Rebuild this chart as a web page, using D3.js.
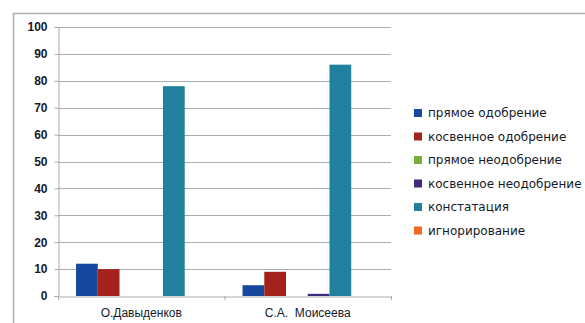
<!DOCTYPE html>
<html>
<head>
<meta charset="utf-8">
<script src="https://cdn.jsdelivr.net/npm/d3@7"></script>
<style>
  body { margin: 0; background: #fff; }
  svg { display: block; font-family: 'DejaVu Sans', Verdana, sans-serif; }
</style>
</head>
<body>
<svg id="chart" width="585" height="323"></svg>
<script>
const categories = ['О.Давыденков', 'С.А.  Моисеева'];
const seriesNames = ['прямое одобрение', 'косвенное одобрение', 'прямое неодобрение',
  'косвенное неодобрение', 'констатация', 'игнорирование'];
const davydenkov = [12, 10, 0, 0, 78, 0];
const moiseeva = [4, 9, 0, 0.8, 86, 0];
const colours = ['#17479e', '#a3231c', '#7aae3c', '#3d2a7c', '#22809f', '#f26a22'];
const yTicks = [0, 10, 20, 30, 40, 50, 60, 70, 80, 90, 100];

const values = [davydenkov, moiseeva];

const svg = d3.select('#chart');
const plotLeft = 58, plotRight = 391, plotTop = 27, plotBottom = 296;

// outer frame (cut off at right and bottom like the screenshot)
svg.append('path')
  .attr('d', 'M13.5,323 V13.5 H585')
  .attr('fill', 'none')
  .attr('stroke', '#a9b1af')
  .attr('stroke-width', 1.5);

const x = d3.scaleBand()
  .domain(categories)
  .range([plotLeft, plotRight]);

const xInner = d3.scaleBand()
  .domain(d3.range(seriesNames.length))
  .range([0, x.bandwidth()])
  .paddingOuter(0.83)
  .paddingInner(0);

const y = d3.scaleLinear()
  .domain([0, 100])
  .range([plotBottom, plotTop]);

// grid
svg.append('g')
  .selectAll('line')
  .data(yTicks.slice(1))
  .enter().append('line')
  .attr('x1', plotLeft)
  .attr('x2', plotRight)
  .attr('y1', d => Math.round(y(d)) + 0.5)
  .attr('y2', d => Math.round(y(d)) + 0.5)
  .attr('stroke', '#a6aeae');

// y axis
const yAxis = svg.append('g')
  .attr('transform', `translate(${plotLeft + 0.5},0)`)
  .call(d3.axisLeft(y).tickValues(yTicks).tickSize(4).tickPadding(7));
yAxis.select('.domain').attr('stroke', '#a6aeae');
yAxis.selectAll('.tick line').attr('stroke', '#a6aeae');
yAxis.selectAll('.tick text')
  .attr('fill', '#151a2a')
  .style('font-size', '12px')
  .style('font-weight', 'bold');

// bars
const groups = svg.append('g')
  .selectAll('g')
  .data(categories)
  .enter().append('g')
  .attr('transform', d => `translate(${x(d)},0)`);

groups.selectAll('rect')
  .data((d, i) => values[i].map((v, j) => ({ v, j })))
  .enter().append('rect')
  .attr('x', d => xInner(d.j))
  .attr('width', xInner.bandwidth())
  .attr('y', d => y(d.v))
  .attr('height', d => plotBottom - y(d.v))
  .attr('fill', d => colours[d.j]);

// x axis
const xAxis = svg.append('g')
  .attr('transform', `translate(0,${plotBottom + 0.5})`)
  .call(d3.axisBottom(x).tickSize(0).tickPadding(12));
xAxis.select('.domain').attr('stroke', '#a6aeae');
xAxis.selectAll('.tick text')
  .attr('fill', '#151a2a')
  .style('font-size', '12px')
  .style('white-space', 'pre');

svg.append('g')
  .selectAll('line')
  .data([plotLeft, x(categories[1]), plotRight])
  .enter().append('line')
  .attr('x1', d => d + 0.5)
  .attr('x2', d => d + 0.5)
  .attr('y1', plotBottom)
  .attr('y2', plotBottom + 4)
  .attr('stroke', '#a6aeae');

// legend
const legend = svg.append('g')
  .attr('transform', 'translate(414,113)')
  .selectAll('g')
  .data(seriesNames)
  .enter().append('g')
  .attr('transform', (d, i) => `translate(0,${i * 23.5})`);

legend.append('rect')
  .attr('x', 0)
  .attr('y', -4)
  .attr('width', 8)
  .attr('height', 8)
  .attr('fill', (d, i) => colours[i]);

legend.append('text')
  .attr('x', 14)
  .attr('y', 0)
  .attr('dy', '0.35em')
  .attr('fill', '#151a2a')
  .style('font-size', '12px')
  .style('white-space', 'pre')
  .text(d => d);
</script>
</body>
</html>
